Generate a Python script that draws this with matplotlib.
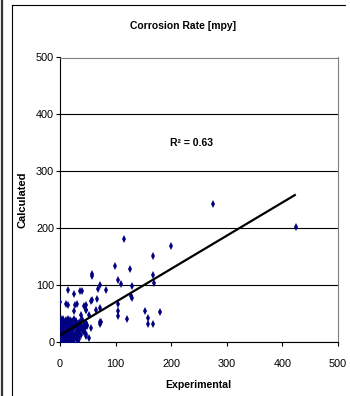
#!/usr/bin/env python3
"""Experimental vs calculated corrosion rate scatter with a linear trend line."""

import matplotlib

matplotlib.use("Agg")
import matplotlib.pyplot as plt
from matplotlib.lines import Line2D

plt.rcParams["font.family"] = ["Liberation Sans", "DejaVu Sans"]

# scattered points away from the origin cluster
outer_x = [115, 200, 168, 99, 125, 104, 110, 168, 169, 130, 130, 105, 105, 105, 120,
           153, 158, 179, 158, 168, 275, 424, 128,
           57, 58, 72, 68, 83, 58, 67, 72, 72, 72, 64, 52, 47, 47, 52, 44, 47,
           36, 40, 25, 14, 0, 10, 14, 27, 31, 25, 38, 44, 47, 55, 39, 46, 46, 73, 49, 56]
outer_y = [181, 169, 151, 134, 128, 109, 102, 118, 104, 99, 78, 67, 55, 46, 40,
           55, 43, 52, 31, 32, 242, 202, 80,
           116, 119, 101, 94, 92, 74, 75, 59, 35, 31, 56, 48, 34, 11, 7, 18, 14,
           90, 90, 84, 92, 71, 66, 65, 65, 66, 55, 47, 64, 56, 72, 40, 65, 56, 36, 30, 25]

# dense cluster near the origin
cluster_x = [0, 1, 2, 3, 4, 5, 6, 7, 8, 9, 10, 11, 12, 13, 14, 15, 16, 17, 18, 19, 20,
             21, 22, 23, 24, 25, 26, 27, 28, 29, 30, 31, 32, 33, 34, 35,
             0, 0, 0, 0, 1, 1, 2, 2, 3, 3, 4, 5, 5, 6, 7, 7, 8, 9, 10, 11, 12, 13,
             14, 15, 16, 17, 18, 19, 20, 21, 22, 24, 25, 27, 29, 30, 32, 34, 36, 38, 40,
             0, 1, 2, 3, 4, 5, 6, 7, 8, 9, 10, 11, 12, 13, 14, 15, 16, 17, 18, 19, 20,
             22, 23, 26, 28, 30, 32, 33, 35, 37, 38, 40, 42, 44, 45, 48]
cluster_y = [0, 2, 5, 1, 8, 3, 12, 6, 2, 15, 9, 4, 18, 11, 1, 7, 22, 14, 3, 26, 10,
             5, 19, 30, 2, 13, 24, 8, 35, 17, 4, 28, 11, 21, 6, 33,
             10, 20, 30, 38, 15, 25, 33, 40, 18, 28, 36, 22, 30, 40, 26, 35, 20, 31, 38, 27, 34, 24,
             40, 30, 36, 28, 38, 20, 32, 25, 37, 28, 40, 30, 37, 25, 32, 28, 36, 30, 38,
             5, 8, 12, 3, 14, 10, 2, 17, 9, 4, 1, 13, 6, 3, 16, 12, 5, 9, 13, 2, 18,
             7, 14, 3, 10, 15, 2, 8, 18, 12, 22, 26, 20, 30, 24, 28]

# linear trend
trend_intercept = 12.0
trend_slope = 0.583
r2_label = "R² = 0.63"

x_ticks = [0, 100, 200, 300, 400, 500]
y_ticks = [0, 100, 200, 300, 400, 500]

W, H = 350, 396
fig = plt.figure(figsize=(W / 100, H / 100), dpi=100)
ax = fig.add_axes([60 / W, 1 - 342 / H, 278 / W, 284.5 / H])

xs = outer_x + cluster_x
ys = outer_y + cluster_y
ax.plot(xs, ys, linestyle="none", marker="d", markersize=4.2,
        color="#000080", markeredgewidth=0, zorder=3)

x_end = max(xs)
ax.plot([0, x_end], [trend_intercept, trend_intercept + trend_slope * x_end],
        color="black", linewidth=1.6, zorder=4, solid_capstyle="butt")

ax.text(197, 350, r2_label, fontsize=7.5, fontweight="bold", va="center", ha="left")

ax.set_xlim(0, 500)
ax.set_ylim(0, 500)
ax.set_xticks(x_ticks)
ax.set_yticks(y_ticks)
ax.yaxis.grid(True, color="black", linewidth=0.8)
ax.set_axisbelow(True)
ax.tick_params(axis="both", direction="out", length=3, width=0.8,
               labelsize=7.8, color="black")
ax.tick_params(axis="x", pad=9)
ax.tick_params(axis="y", pad=1.2)
for side in ("top", "right"):
    ax.spines[side].set_color("#808080")
    ax.spines[side].set_linewidth(0.8)
for side in ("left", "bottom"):
    ax.spines[side].set_color("black")
    ax.spines[side].set_linewidth(0.8)

fig.text(183 / W, 1 - 26 / H, "Corrosion Rate [mpy]", fontsize=7.5,
         fontweight="bold", ha="center", va="center")
fig.text(198 / W, 1 - 385 / H, "Experimental", fontsize=7.6,
         fontweight="bold", ha="center", va="center")
fig.text(22 / W, 1 - 200 / H, "Calculated", fontsize=8, fontweight="bold",
         rotation=90, ha="center", va="center")

# chart border lines
fig.add_artist(Line2D([1.5 / W, 1.5 / W], [0, 1], color="#333333", linewidth=1.6))
fig.add_artist(Line2D([11.5 / W, 11.5 / W], [0, 1 - 5 / H], color="black", linewidth=0.8))
fig.add_artist(Line2D([11.5 / W, 345 / W], [1 - 5 / H, 1 - 5 / H], color="black", linewidth=0.8))

fig.savefig("out.png", dpi=100)
plt.close(fig)
